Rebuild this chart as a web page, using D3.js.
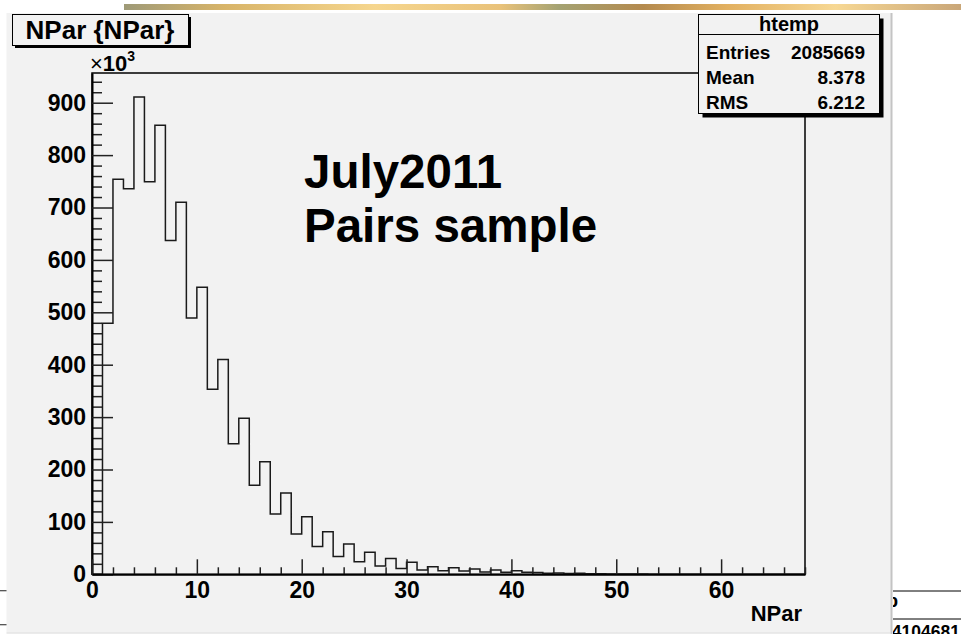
<!DOCTYPE html>
<html>
<head>
<meta charset="utf-8">
<script src="https://cdn.jsdelivr.net/npm/d3@7"></script>
<style>
  body { margin: 0; background: #fff; }
  text { font-family: "Liberation Sans", Arial, Helvetica, sans-serif; font-weight: bold; fill: #000; }
</style>
</head>
<body>
<div id="chart"></div>
<script>
// bin contents in units of 10^3, one entry per unit-wide bin starting at NPar = 0
var binCounts = [0, 479, 754, 736, 911, 749, 857, 637, 710, 489,
                 548, 353, 410, 249, 298, 170, 215, 115, 155, 77,
                 110, 53, 81, 34, 58, 24, 42, 16, 30, 11,
                 23, 8, 14.5, 7, 12.6, 6.3, 10, 4.4, 8.2, 4,
                 6.9, 3.8, 3.5, 2, 2.5, 1.5, 1.8, 1, 1.2, 0.7,
                 0.8, 0.5, 0.5, 0.3, 0.3, 0.2, 0.2, 0.1, 0.1, 0.1,
                 0, 0, 0, 0, 0, 0, 0, 0];
var xTicks = [0, 10, 20, 30, 40, 50, 60];
var yTicks = [0, 100, 200, 300, 400, 500, 600, 700, 800, 900];
var statLabels = ["Entries", "Mean", "RMS"];
var statValues = ["2085669", "8.378", "6.212"];
var histName = "htemp";
var titleText = "NPar {NPar}";
var xTitle = "NPar";
var noteLines = ["July2011", "Pairs sample"];

//frame of the pad
var frame = {left: 92, right: 805, top: 73, bottom: 574.3};

var x = d3.scaleLinear().domain([0, 68]).range([frame.left, frame.right]);
var y = d3.scaleLinear().domain([0, 956.7]).range([frame.bottom, frame.top]);

var svg = d3.select("#chart").append("svg")
    .attr("width", 961)
    .attr("height", 634);

//slide strip on top
var grad = svg.append("defs").append("linearGradient").attr("id", "strip");
[["0", "#9e9a78"], ["0.12", "#d8b468"], ["0.3", "#f6d68e"], ["0.45", "#e9c27a"],
 ["0.52", "#a4a272"], ["0.62", "#b48a4e"], ["0.72", "#e2b060"], ["0.85", "#f7d894"], ["1", "#c9a678"]]
  .forEach(function(s) { grad.append("stop").attr("offset", s[0]).attr("stop-color", s[1]); });
svg.append("rect").attr("x", 124).attr("y", 4).attr("width", 837).attr("height", 6).attr("fill", "url(#strip)");

//neighbouring stats box peeking in at bottom right
var clip = svg.append("clipPath").attr("id", "rightclip");
clip.append("rect").attr("x", 893).attr("y", 580).attr("width", 68).attr("height", 54);
var side = svg.append("g").attr("clip-path", "url(#rightclip)");
side.append("line").attr("x1", 880).attr("x2", 961).attr("y1", 591).attr("y2", 591).attr("stroke", "#000");
side.append("line").attr("x1", 880).attr("x2", 961).attr("y1", 619).attr("y2", 619).attr("stroke", "#000");
side.append("text").attr("x", 898).attr("y", 607).attr("text-anchor", "end").style("font-size", "19px").text(histName);
side.append("text").attr("x", 960).attr("y", 638).attr("text-anchor", "end").style("font-size", "17.5px").text("4104681");

//left neighbour ticks
[590.7, 624.7].forEach(function(v) {
  svg.append("line").attr("x1", 0).attr("x2", 7).attr("y1", v).attr("y2", v).attr("stroke", "#444").attr("stroke-width", 1.2);
});

//canvas
svg.append("rect").attr("x", 6.5).attr("y", 13).attr("width", 884.5).attr("height", 619.5).attr("fill", "#f2f2f2");
svg.append("line").attr("x1", 891.5).attr("x2", 891.5).attr("y1", 13).attr("y2", 634).attr("stroke", "#c4c4c4").attr("stroke-width", 2);
svg.append("line").attr("x1", 6.5).attr("x2", 891).attr("y1", 633).attr("y2", 633).attr("stroke", "#d8d8d8").attr("stroke-width", 1);

//frame
svg.append("rect")
    .attr("x", frame.left).attr("y", frame.top)
    .attr("width", frame.right - frame.left).attr("height", frame.bottom - frame.top)
    .attr("fill", "none").attr("stroke", "#000").attr("stroke-width", 1.5);

//histogram outline
var pts = [[0, 0]];
binCounts.forEach(function(v, i) { pts.push([i, v]); });
pts.push([binCounts.length, binCounts[binCounts.length - 1]]);
pts.push([binCounts.length, 0]);
var line = d3.line()
    .x(function(d) { return x(d[0]); })
    .y(function(d) { return y(d[1]); })
    .curve(d3.curveStepAfter);
svg.append("path").datum(pts)
    .attr("d", line)
    .attr("fill", "none").attr("stroke", "#1a1a1a").attr("stroke-width", 1.5);

//y axis, minor ticks then major
var yMinor = d3.range(0, 941, 20).filter(function(v) { return v % 100 !== 0; });
svg.append("g")
    .attr("transform", "translate(" + frame.left + ",0)")
    .call(d3.axisLeft(y).tickValues(yMinor).tickSizeInner(-10).tickSizeOuter(0).tickFormat(""))
    .call(function(g) { g.select(".domain").remove(); });
var yAxis = svg.append("g")
    .attr("transform", "translate(" + frame.left + ",0)")
    .call(d3.axisLeft(y).tickValues(yTicks).tickSizeInner(-21).tickSizeOuter(0).tickPadding(6).tickFormat(d3.format("d")));

//x axis
var xMinor = d3.range(0, 69, 2).filter(function(v) { return v % 10 !== 0; });
svg.append("g")
    .attr("transform", "translate(0," + frame.bottom + ")")
    .call(d3.axisBottom(x).tickValues(xMinor).tickSizeInner(-7).tickSizeOuter(0).tickFormat(""))
    .call(function(g) { g.select(".domain").remove(); });
var xAxis = svg.append("g")
    .attr("transform", "translate(0," + frame.bottom + ")")
    .call(d3.axisBottom(x).tickValues(xTicks).tickSizeInner(-15).tickSizeOuter(0).tickPadding(7).tickFormat(d3.format("d")));

svg.selectAll(".tick line").attr("stroke", "#222").attr("stroke-width", 1.5);
svg.selectAll(".domain").attr("stroke", "#000").attr("stroke-width", 2);
svg.selectAll(".tick text").style("font-size", "23px").style("font-family", null).attr("fill", "#000");

//exponent label
var expo = svg.append("text").attr("x", 90).attr("y", 71).style("font-size", "22px");
expo.append("tspan").style("font-weight", "normal").text("\u00d7");
expo.append("tspan").text("10");
expo.append("tspan").attr("dy", -10).style("font-size", "14px").text("3");

//x axis title
svg.append("text").attr("x", 802).attr("y", 621).attr("text-anchor", "end").style("font-size", "22px").text(xTitle);

//title box
svg.append("rect").attr("x", 15).attr("y", 17).attr("width", 176).attr("height", 31).attr("fill", "#000");
svg.append("rect").attr("x", 12.5).attr("y", 14.5).attr("width", 176).attr("height", 31)
    .attr("fill", "#f2f2f2").attr("stroke", "#000").attr("stroke-width", 1);
svg.append("text").attr("x", 100).attr("y", 39).attr("text-anchor", "middle")
    .style("font-size", "26px").text(titleText);

//stats box
var sb = {x: 698.5, y: 14.5, w: 181, h: 99};
svg.append("rect").attr("x", sb.x + 4).attr("y", sb.y + 4).attr("width", sb.w).attr("height", sb.h).attr("fill", "#000");
svg.append("rect").attr("x", sb.x).attr("y", sb.y).attr("width", sb.w).attr("height", sb.h)
    .attr("fill", "#f2f2f2").attr("stroke", "#000").attr("stroke-width", 1);
svg.append("line").attr("x1", sb.x).attr("x2", sb.x + sb.w).attr("y1", 34.5).attr("y2", 34.5).attr("stroke", "#000");
svg.append("text").attr("x", sb.x + sb.w / 2).attr("y", 30.5).attr("text-anchor", "middle").style("font-size", "20px").text(histName);
statLabels.forEach(function(l, i) {
  svg.append("text").attr("x", 706).attr("y", 58.5 + i * 25).style("font-size", "19px").text(l);
  svg.append("text").attr("x", 865).attr("y", 58.5 + i * 25).attr("text-anchor", "end").style("font-size", "19px").text(statValues[i]);
});

//note
noteLines.forEach(function(t, i) {
  svg.append("text").attr("x", 304).attr("y", 188 + i * 53.5).style("font-size", "47.5px").text(t);
});
</script>
</body>
</html>
